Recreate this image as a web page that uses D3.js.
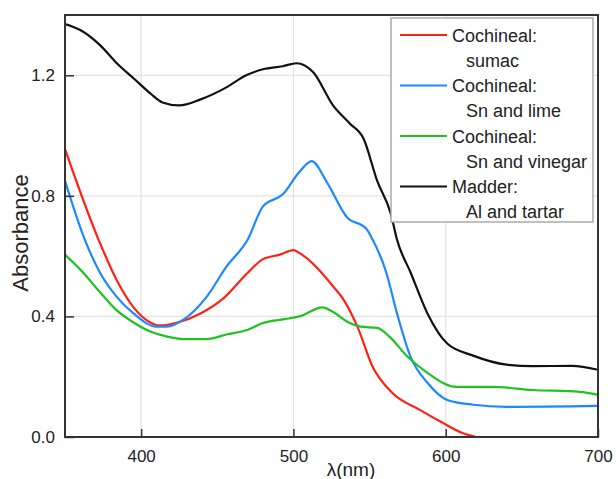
<!DOCTYPE html>
<html>
<head>
<meta charset="utf-8">
<script src="https://cdn.jsdelivr.net/npm/d3@7"></script>
<style>
  body { margin: 0; background: #fff; }
  svg { font-family: "Liberation Sans", Arial, sans-serif; }
</style>
</head>
<body>
<div id="chart"></div>
<script>
// wavelength (nm) / absorbance pairs
var sumacNm  = [350, 372, 384, 395, 406, 412, 424, 439, 454, 470, 480, 491, 500, 504, 526, 533, 542, 552, 565, 583, 598, 611, 620];
var sumacAbs = [0.955, 0.655, 0.52, 0.43, 0.38, 0.37, 0.38, 0.41, 0.46, 0.545, 0.59, 0.605, 0.62, 0.61, 0.50, 0.455, 0.366, 0.233, 0.146, 0.09, 0.047, 0.013, 0.0];

var limeNm  = [350, 363, 373, 384, 395, 410, 417, 428, 443, 456, 470, 480, 493, 504, 512, 522, 535, 548, 552, 561, 568, 577, 588, 601, 618, 640, 700];
var limeAbs = [0.85, 0.655, 0.545, 0.465, 0.41, 0.366, 0.366, 0.39, 0.465, 0.565, 0.655, 0.765, 0.805, 0.88, 0.915, 0.845, 0.73, 0.69, 0.655, 0.545, 0.41, 0.265, 0.18, 0.123, 0.107, 0.10, 0.103];

var vinegarNm  = [350, 362, 373, 384, 395, 406, 417, 428, 443, 456, 470, 480, 493, 504, 519, 526, 537, 544, 555, 563, 575, 588, 607, 631, 657, 688, 700];
var vinegarAbs = [0.605, 0.545, 0.48, 0.42, 0.38, 0.35, 0.333, 0.325, 0.325, 0.34, 0.356, 0.378, 0.39, 0.40, 0.43, 0.415, 0.378, 0.366, 0.362, 0.333, 0.266, 0.213, 0.166, 0.166, 0.156, 0.15, 0.14];

var madderNm  = [350, 360, 373, 384, 395, 406, 414, 425, 439, 456, 469, 480, 493, 502, 513, 526, 537, 546, 555, 564, 568, 577, 588, 601, 618, 640, 657, 683, 700];
var madderAbs = [1.37, 1.35, 1.30, 1.24, 1.19, 1.14, 1.11, 1.10, 1.12, 1.16, 1.20, 1.22, 1.23, 1.24, 1.21, 1.10, 1.04, 0.99, 0.85, 0.74, 0.655, 0.545, 0.41, 0.31, 0.27, 0.24, 0.235, 0.236, 0.223];

var seriesNames = [["Cochineal:", "sumac"], ["Cochineal:", "Sn and lime"], ["Cochineal:", "Sn and vinegar"], ["Madder:", "Al and tartar"]];
var seriesColors = ["#ff2214", "#1e88ff", "#1fc21f", "#111111"];

var xTicks = [400, 500, 600, 700];
var yTicks = [0.0, 0.4, 0.8, 1.2];

var series = [
  [sumacNm, sumacAbs], [limeNm, limeAbs], [vinegarNm, vinegarAbs], [madderNm, madderAbs]
].map(function(s, i) {
  return {
    name: seriesNames[i],
    color: seriesColors[i],
    points: s[0].map(function(n, j) { return [n, s[1][j]]; })
  };
});

var W = 616, H = 479;
var margin = {top: 15, right: 18, bottom: 42, left: 65};
var width = W - margin.left - margin.right,
    height = H - margin.top - margin.bottom;

var svg = d3.select('#chart').append('svg')
    .attr('width', W)
    .attr('height', H);

var g = svg.append('g')
    .attr('transform', 'translate(' + margin.left + ',' + margin.top + ')');

var x = d3.scaleLinear().domain([350, 700]).range([0, width]);
var y = d3.scaleLinear().domain([0, 1.4]).range([height, 0]);

// grid
g.append('g').selectAll('line')
  .data(xTicks.slice(0, 3)).enter().append('line')
    .attr('x1', function(d) { return x(d); })
    .attr('x2', function(d) { return x(d); })
    .attr('y1', 0).attr('y2', height)
    .style('stroke', '#e2e2e2').style('stroke-width', 1.2);

g.append('g').selectAll('line')
  .data(yTicks.slice(1)).enter().append('line')
    .attr('y1', function(d) { return y(d); })
    .attr('y2', function(d) { return y(d); })
    .attr('x1', 0).attr('x2', width)
    .style('stroke', '#e2e2e2').style('stroke-width', 1.2);

// curves
var line = d3.line()
    .x(function(d) { return x(d[0]); })
    .y(function(d) { return y(d[1]); })
    .curve(d3.curveMonotoneX);

g.append('defs').append('clipPath').attr('id', 'clip')
  .append('rect').attr('width', width).attr('height', height);

g.append('g').attr('clip-path', 'url(#clip)')
  .selectAll('path')
  .data(series).enter().append('path')
    .attr('d', function(d) { return line(d.points); })
    .style('fill', 'none')
    .style('stroke', function(d) { return d.color; })
    .style('stroke-width', 2.2)
    .style('stroke-linejoin', 'round');

// axes
var xAxis = d3.axisBottom(x).tickValues(xTicks).tickSizeInner(-8).tickSizeOuter(0).tickPadding(13);
var yAxis = d3.axisLeft(y).tickValues(yTicks).tickSizeInner(-9).tickSizeOuter(0).tickPadding(10)
    .tickFormat(d3.format('.1f'));

var xg = g.append('g')
    .attr('transform', 'translate(0,' + height + ')')
    .call(xAxis);
var yg = g.append('g').call(yAxis);

[xg, yg].forEach(function(a) {
  a.select('.domain').remove();
  a.selectAll('line').style('stroke', '#333').style('stroke-width', 1.5);
  a.selectAll('text').style('font-size', '17px').style('fill', '#222');
});

// frame
g.append('rect')
    .attr('width', width).attr('height', height)
    .style('fill', 'none')
    .style('stroke', '#333')
    .style('stroke-width', 2);

// axis titles
svg.append('text')
    .attr('transform', 'translate(28,' + 233 + ') rotate(-90)')
    .attr('text-anchor', 'middle')
    .style('font-size', '22px')
    .style('fill', '#222')
    .text('Absorbance');

svg.append('text')
    .attr('x', 351).attr('y', 476)
    .attr('text-anchor', 'middle')
    .style('font-size', '19px')
    .style('fill', '#222')
    .text('λ(nm)');

// legend
var legend = svg.append('g').attr('transform', 'translate(391,18)');
legend.append('rect')
    .attr('width', 202).attr('height', 204)
    .style('fill', '#fff')
    .style('stroke', '#aaa')
    .style('stroke-width', 1.5);

var item = legend.selectAll('.item')
  .data(series).enter().append('g')
    .attr('class', 'item')
    .attr('transform', function(d, i) { return 'translate(0,' + (17 + i * 50.5) + ')'; });

item.append('line')
    .attr('x1', 9).attr('x2', 56)
    .style('stroke', function(d) { return d.color; })
    .style('stroke-width', 2.2);

item.append('text')
    .attr('x', 61).attr('y', 6.5)
    .style('font-size', '18px').style('fill', '#222')
    .text(function(d) { return d.name[0]; });

item.append('text')
    .attr('x', 75).attr('y', 31.5)
    .style('font-size', '18px').style('fill', '#222')
    .text(function(d) { return d.name[1]; });
</script>
</body>
</html>
